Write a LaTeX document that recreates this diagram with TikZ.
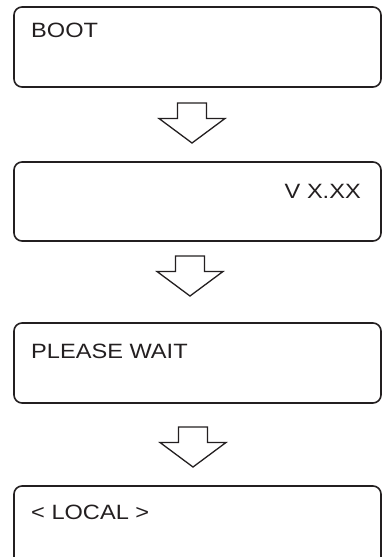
\documentclass[tikz,border=0pt]{standalone}
\usepackage{fontspec}
\setmainfont[FakeStretch=1.14]{Liberation Sans}
\definecolor{ink}{HTML}{231F20}
\begin{document}
\begin{tikzpicture}[x=1pt,y=-1pt,
  lcd/.style={draw=ink,line width=1.6pt,rounded corners=8pt},
  lbl/.style={inner sep=0pt,text=ink,font=\fontsize{20.7}{24}\selectfont},
  flowarrow/.style={draw=ink,line width=1.3pt,fill=white,line join=miter}]
\useasboundingbox (0,0) rectangle (383,557);
\begin{scope}
\clip (0,0) rectangle (383,557);
% boxes
\draw[lcd] (14,7) rectangle (381,87);
\draw[lcd] (14,162) rectangle (381,241);
\draw[lcd] (14,323) rectangle (381,403);
\draw[lcd] (14,486) rectangle (381,580);
\end{scope}
\node[lbl,anchor=base west] (t1) at (31,37.5) {BOOT};
\node[lbl,anchor=base east] (t2) at (361,198) {V X.XX};
\node[lbl,anchor=base west] (t3) at (31,358) {PLEASE WAIT};
\node[lbl,anchor=base west] (t4) at (31,519) {< LOCAL >};
% arrows
\foreach \cx/\ty [count=\i] in {192/103, 190/256, 193/427}{
  \coordinate (a\i) at (\cx,\ty);
  \draw[flowarrow] ([xshift=-14.5pt]a\i) -- ([xshift=14.5pt]a\i)
    -- ++(0,15.5) -- ++(18.5,0) -- ([yshift=-40pt]a\i)
    -- ++(-33,-24.5) -- ++(18.5,0) -- cycle;
}
\end{tikzpicture}
\end{document}
